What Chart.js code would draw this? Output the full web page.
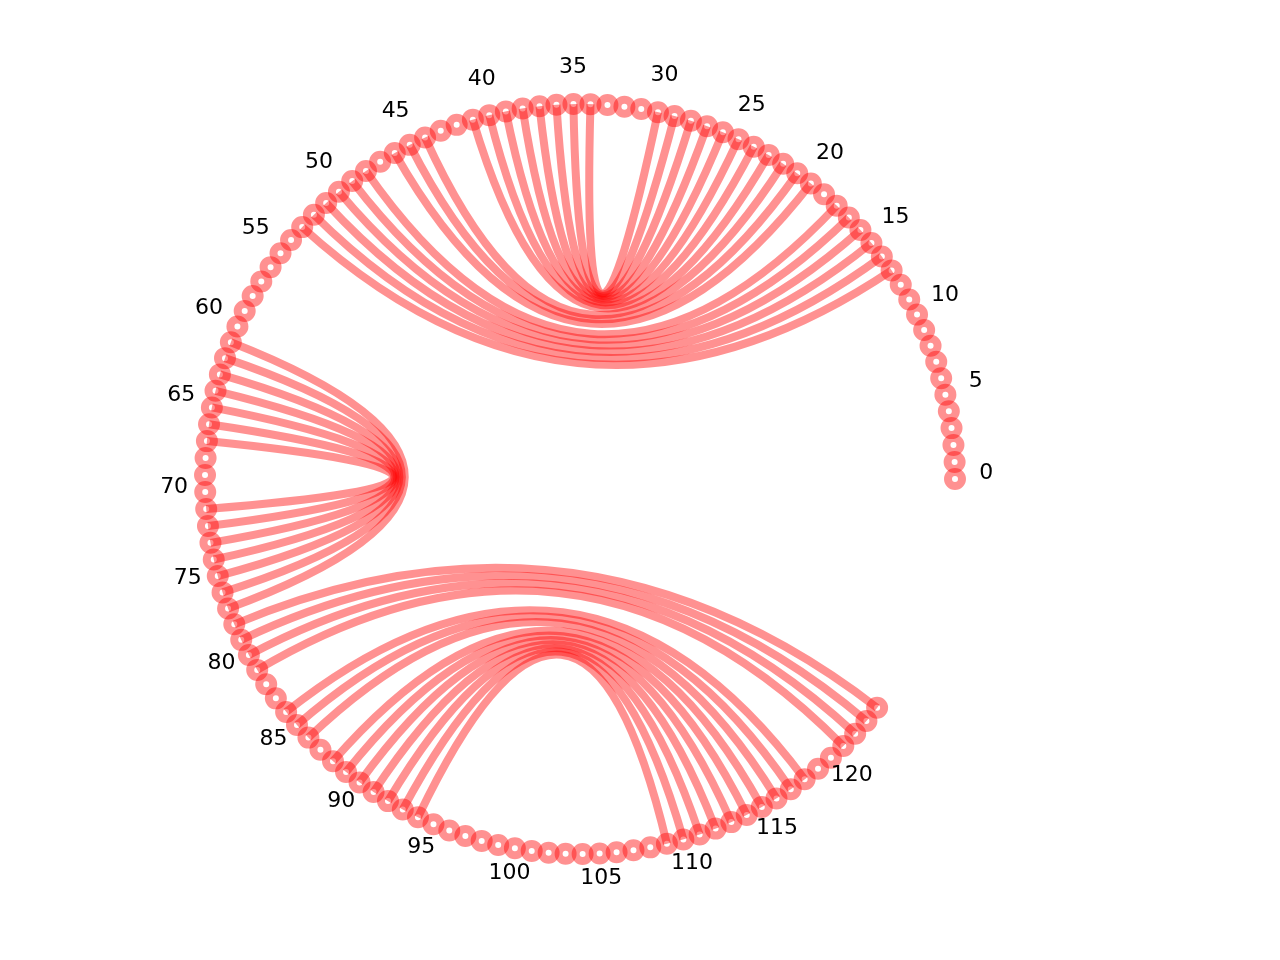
<!DOCTYPE html>
<html>
<head>
<meta charset="utf-8">
<script src="https://cdn.jsdelivr.net/npm/chart.js@4"></script>
<style>
  html, body { margin: 0; padding: 0; background: #fff; }
  #wrap { width: 1280px; height: 960px; }
</style>
</head>
<body>
<div id="wrap"><canvas id="arcChart" width="1280" height="960"></canvas></div>
<script>
// sequence positions 0..124 placed round a circle
const nodeCount = 125;
// paired stems: start on the 5' side, partner on the 3' side, number of pairs
const helixStart = [13, 20, 23, 61, 78, 84, 88];
const helixEnd = [53, 46, 41, 77, 124, 118, 115];
const helixLength = [6, 3, 8, 7, 4, 3, 7];
// index labels round the rim
const tickLabels = [0, 5, 10, 15, 20, 25, 30, 35, 40, 45, 50, 55, 60, 65, 70, 75, 80, 85, 90, 95, 100, 105, 110, 115, 120];

const stepDeg = 2.6;
const red = "rgba(255, 0, 0, 0.43)";

function nodePos(i, r) {
    let a = i * stepDeg * Math.PI / 180;
    return { x: r * Math.cos(a), y: r * Math.sin(a) };
}

let nodes = [];
for (let i = 0; i < nodeCount; i++) nodes.push(nodePos(i, 1));

let pairs = [];
helixStart.forEach((s, h) => {
    for (let k = 0; k < helixLength[h]; k++) pairs.push([s + k, helixEnd[h] - k]);
});

// bezier edges, control point at the circle centre
const edgePlugin = {
    id: "edges",
    beforeDatasetsDraw(chart) {
        let ctx = chart.ctx;
        let xs = chart.scales.x, ys = chart.scales.y;
        let cx = xs.getPixelForValue(0), cy = ys.getPixelForValue(0);
        ctx.save();
        ctx.strokeStyle = red;
        ctx.lineWidth = 8;
        ctx.lineCap = "butt";
        pairs.forEach(p => {
            let a = nodes[p[0]], b = nodes[p[1]];
            ctx.beginPath();
            ctx.moveTo(xs.getPixelForValue(a.x), ys.getPixelForValue(a.y));
            ctx.quadraticCurveTo(cx, cy, xs.getPixelForValue(b.x), ys.getPixelForValue(b.y));
            ctx.stroke();
        });
        ctx.restore();
    },
    afterDatasetsDraw(chart) {
        let ctx = chart.ctx;
        let xs = chart.scales.x, ys = chart.scales.y;
        ctx.save();
        ctx.fillStyle = "#000";
        ctx.font = "22px 'DejaVu Sans'";
        ctx.textAlign = "center";
        ctx.textBaseline = "middle";
        tickLabels.forEach(t => {
            let p = nodePos(t, 1.083);
            ctx.fillText(String(t), xs.getPixelForValue(p.x), ys.getPixelForValue(p.y) - 6);
        });
        ctx.restore();
    }
};

const ctx = document.getElementById("arcChart").getContext("2d");
new Chart(ctx, {
    type: "scatter",
    data: {
        datasets: [{
            data: nodes,
            backgroundColor: "rgba(255, 255, 255, 0)",
            borderColor: red,
            borderWidth: 8,
            pointRadius: 7,
            pointHoverRadius: 7
        }]
    },
    options: {
        responsive: false,
        devicePixelRatio: 1,
        animation: false,
        layout: { padding: 0, autoPadding: false },
        plugins: { legend: { display: false }, tooltip: { enabled: false } },
        scales: {
            x: { type: "linear", display: false, min: -580 / 375, max: 700 / 375 },
            y: { type: "linear", display: false, min: -481 / 375, max: 479 / 375 }
        }
    },
    plugins: [edgePlugin]
});
</script>
</body>
</html>
